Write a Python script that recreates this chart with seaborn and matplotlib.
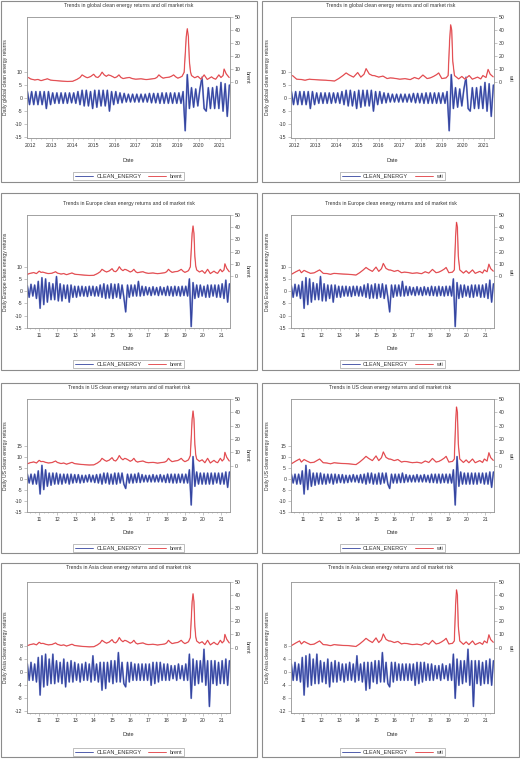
import numpy as np
import pandas as pd
import matplotlib
matplotlib.use("Agg")
import matplotlib.pyplot as plt
from matplotlib.patches import Rectangle
from matplotlib.ticker import FixedLocator
import seaborn as sns

sns.set_theme(style="white")
plt.rcParams['font.family'] = ['Liberation Sans', 'DejaVu Sans']
plt.rcParams['axes.unicode_minus'] = False

# ---------------- data ----------------
# time axis in years (2-digit: 11 = 2011), roughly every 0.1 year
t_start = 10.35
t_start_global = 11.85
step = 0.1

europe_ret = [2.2, -2.5, 2.8, -2.0, 2.5, -3.0,
              4.0, -7.0, 5.5, -5.5, 5.0, -4.5, 3.5, -3.5, 3.0, -3.5, 6.0, -4.0, 3.0, -4.0,
              2.5, -3.0, 2.5, -4.5, 2.5, -2.5, 2.0, -2.5, 2.0, -2.0,
              2.0, -2.0, 1.8, -2.2, 2.0, -1.8, 2.0, -2.0, 1.8, -2.0,
              2.5, -2.5, 3.0, -3.0, 2.5, -2.8, 3.0, -3.0, 2.8, -2.5,
              3.0, -3.0, 2.5, -2.5, -8.5, 2.5, -2.5, 2.5, -2.0, 2.5,
              -2.0, 4.0, -2.0, 2.0, -1.8, 1.8, -1.5, 1.5, -1.8, 1.8,
              -1.5, 1.5, -1.8, 1.8, -1.5, 1.5, -1.8, 2.0, -1.8, 1.8,
              -2.0, 2.0, -1.8, 1.8, -2.0, 2.0, -1.8, 2.0, -2.0, 5.0,
              -14.5, 3.5, -3.0, 2.5, -2.5, 2.5, -2.0, 2.0, -2.5, 2.5,
              -2.5, 2.5, -2.0, 2.5, -2.5, 2.5, -2.5, 3.0, -3.0, 4.5,
              -4.5, 3.0]

us_ret = [2.0, -2.0, 2.0, -2.5, 2.0, -2.5,
          3.5, -7.0, 6.0, -5.0, 4.0, -3.5, 2.5, -3.0, 2.5, -2.5, 2.5, -2.5, 2.0, -2.5,
          2.0, -2.0, 2.0, -2.5, 2.0, -2.0, 1.8, -1.8, 1.8, -2.0,
          1.5, -1.8, 1.5, -1.5, 1.8, -1.5, 1.5, -1.8, 1.8, -2.0,
          2.0, -2.5, 2.5, -2.0, 2.5, -2.5, 2.0, -2.5, 2.5, -2.5,
          2.5, -2.0, 2.5, -2.5, -4.5, 2.0, -2.0, 2.0, -2.0, 2.0,
          -1.8, 2.5, -1.8, 1.8, -1.5, 1.5, -1.5, 1.5, -1.5, 1.8,
          -1.5, 1.5, -1.5, 1.8, -1.5, 1.5, -1.8, 2.0, -1.8, 2.0,
          -2.0, 2.0, -2.0, 2.0, -1.8, 2.0, -2.0, 2.0, -2.0, 4.0,
          -12.0, 10.0, -3.5, 3.0, -2.5, 2.5, -2.5, 2.5, -2.5, 2.5,
          -2.5, 2.5, -2.5, 2.5, -2.0, 2.5, -2.5, 2.5, -2.5, 3.0,
          -4.0, 3.0]

asia_ret = [2.5, -2.5, 3.0, -2.5, 2.5, -3.0,
            4.5, -7.0, 5.0, -4.5, 5.5, -4.0, 4.0, -3.5, 5.5, -3.5, 3.5, -3.0, 3.0, -3.5,
            4.0, -4.5, 3.0, -3.0, 3.5, -3.0, 3.0, -2.5, 2.5, -3.0,
            2.5, -2.5, 3.0, -2.5, 2.5, -3.0, 5.0, -2.5, 2.5, -3.0,
            3.0, -5.5, 3.0, -5.0, 3.0, -3.0, 3.5, -3.5, 3.5, -3.0,
            6.0, -3.0, 3.0, -3.5, -4.5, 3.0, -3.0, 3.0, -2.5, 2.5,
            -2.5, 2.5, -2.5, 2.5, -2.5, 2.5, -2.5, 2.5, -4.0, 3.0,
            -3.5, 3.0, -3.0, 3.0, -2.5, 2.5, -2.5, 2.5, -2.5, 2.0,
            -2.0, 2.0, -2.5, 2.5, -2.0, 2.0, -2.5, 2.5, -2.5, 5.5,
            -8.0, 4.0, -4.0, 3.5, -3.5, 3.5, -3.0, 7.0, -4.0, 3.5,
            -10.5, 3.5, -3.5, 3.5, -4.0, 3.0, -3.5, 3.5, -3.5, 4.0,
            -4.0, 3.5]

global_ret = [2.5, -2.5, 2.5, -2.5, 2.5,
              -2.5, 2.5, -2.5, 2.5, -4.0, 2.5, -2.5, 2.0, -2.0, 2.0,
              -2.0, 2.0, -2.0, 2.0, -2.0, 2.0, -1.8, 2.0, -2.0, 2.5,
              -2.5, 3.0, -3.0, 3.0, -3.0, 2.5, -4.0, 3.0, -3.5, 3.0,
              -3.0, 3.0, -3.0, 3.0, -5.0, 2.5, -2.5, 2.5, -2.0, 2.0,
              -1.8, 1.8, -1.5, 1.5, -1.5, 1.5, -1.5, 1.5, -1.5, 1.5,
              -1.5, 1.5, -1.5, 1.8, -1.8, 1.8, -1.8, 1.8, -2.0, 2.0,
              -2.0, 2.0, -2.0, 2.0, -2.0, 2.0, -2.0, 2.0, -2.0, 2.5,
              -12.5, 9.0, -4.0, 4.0, -3.5, 3.5, -3.0, 3.5, 8.0, -4.0,
              -5.0, 4.0, -4.0, 4.0, -4.0, 4.5, -4.0, 6.0, -5.0, 5.5,
              -7.0, 5.0]

brent_t = [10.35, 10.5, 10.7, 10.85, 11.0, 11.1, 11.2, 11.35, 11.5, 11.7, 11.9, 12.0,
           12.2, 12.35, 12.5, 12.65, 12.8, 12.95, 13.2, 13.5, 13.75, 14.0, 14.2, 14.35,
           14.45, 14.6, 14.7, 14.85, 15.0, 15.1, 15.2, 15.3, 15.4, 15.5, 15.6, 15.7,
           15.8, 15.9, 16.0, 16.1, 16.2, 16.3, 16.4, 16.55, 16.7, 16.85, 17.0, 17.25,
           17.5, 17.7, 17.9, 18.0, 18.1, 18.2, 18.3, 18.45, 18.6, 18.7, 18.8, 18.9,
           19.0, 19.1, 19.2, 19.3, 19.35, 19.4, 19.45, 19.5, 19.55, 19.6, 19.65, 19.8,
           19.95, 20.1, 20.25, 20.4, 20.5, 20.6, 20.7, 20.8, 20.95, 21.05, 21.15, 21.2,
           21.3, 21.44]
brent_v = [1.4, 2.2, 2.8, 2.0, 4.0, 3.0, 3.2, 2.5, 2.0, 2.3, 3.5, 2.4,
           1.6, 2.0, 1.1, 1.8, 2.5, 1.5, 1.1, 0.7, 0.5, 0.6, 2.0, 3.5,
           5.5, 4.0, 3.3, 4.2, 6.0, 4.0, 3.5, 5.0, 7.6, 5.5, 4.4, 5.5,
           5.0, 4.2, 3.3, 4.0, 5.5, 3.5, 2.7, 3.2, 3.5, 2.6, 2.2, 2.5,
           1.9, 2.3, 2.7, 3.5, 5.5, 4.0, 3.0, 3.5, 3.8, 4.5, 5.5, 4.0,
           3.0, 3.6, 4.4, 7.5, 21.0, 35.0, 41.0, 35.0, 16.0, 8.0, 5.0, 3.3,
           4.4, 2.2, 5.5, 2.0, 3.0, 4.0, 2.8, 2.2, 5.5, 3.5, 5.0, 10.0,
           6.3, 3.5]

wti_t = [10.35, 10.6, 10.8, 10.9, 11.05, 11.2, 11.4, 11.6, 11.9, 12.1, 12.3, 12.5,
         12.7, 12.9, 13.2, 13.5, 13.9, 14.1, 14.3, 14.45, 14.6, 14.8, 15.0, 15.15,
         15.3, 15.4, 15.55, 15.7, 15.8, 16.0, 16.2, 16.4, 16.55, 16.7, 17.0, 17.25,
         17.5, 17.7, 17.9, 18.1, 18.3, 18.45, 18.6, 18.75, 18.85, 19.0, 19.2, 19.3,
         19.37, 19.42, 19.47, 19.52, 19.6, 19.8, 19.95, 20.1, 20.3, 20.45, 20.7, 20.85,
         20.95, 21.1, 21.2, 21.3, 21.44]
wti_v = [1.4, 3.5, 5.0, 2.7, 4.6, 3.5, 2.2, 2.6, 5.0, 2.2, 2.0, 1.4,
         2.2, 1.9, 1.6, 1.4, 0.8, 2.7, 5.0, 7.0, 5.4, 3.8, 7.3, 3.8,
         6.0, 10.3, 6.2, 5.0, 4.9, 3.8, 4.6, 2.7, 3.2, 3.0, 2.2, 2.6,
         1.9, 3.5, 2.4, 5.4, 2.7, 3.2, 4.3, 5.7, 7.0, 2.7, 3.2, 5.0,
         32.0, 44.0, 40.0, 16.0, 5.0, 2.4, 4.3, 2.2, 5.0, 2.2, 3.8, 2.4,
         5.0, 3.5, 9.7, 6.0, 4.0]

regions = ["global", "Europe", "US", "Asia"]
region_returns = [global_ret, europe_ret, us_ret, asia_ret]
year_labels_global = ["2012", "2013", "2014", "2015", "2016", "2017", "2018", "2019", "2020", "2021"]
year_labels_short = ["11", "12", "13", "14", "15", "16", "17", "18", "19", "20", "21"]
oil_names = ["brent", "wti"]

# ---------------- layout (pixels) ----------------
W, H = 520, 759
fig = plt.figure(figsize=(W / 100, H / 100), dpi=100)

cols = [dict(box=(1, 257), ax=(27, 230)), dict(box=(262, 519), ax=(291, 494))]
rows = [
    dict(box=(1, 182), ax=(17, 138), title=6, date=160, leg=176,
         ylim=(-15.3, 31.1), yticks=[-15, -10, -5, 0, 5, 10], rlim=(-43, 50)),
    dict(box=(193, 370), ax=(215, 328), title=203, date=349, leg=364,
         ylim=(-15.1, 31.2), yticks=[-15, -10, -5, 0, 5, 10], rlim=(-42.6, 50)),
    dict(box=(383, 553), ax=(399, 512), title=387, date=533, leg=548,
         ylim=(-15.2, 36.2), yticks=[-15, -10, -5, 0, 5, 10, 15], rlim=(-34.75, 50)),
    dict(box=(563, 757), ax=(582, 713), title=567, date=735, leg=752,
         ylim=(-12.5, 27.6), yticks=[-12, -8, -4, 0, 4, 8], rlim=(-50, 50)),
]

FS = 3.7
BLUE = "#34449F"
BLUE_LIGHT = "#8C99D6"
RED = "#E0393E"
RED_LIGHT = "#F0A0A3"
GRID = "#9A9A9A"
TXT = "#333333"

oil_series = {
    "brent": pd.DataFrame({"t": brent_t, "v": brent_v}),
    "wti": pd.DataFrame({"t": wti_t, "v": wti_v}),
}


def fx(px):
    return px / W


def fy(py):
    return 1 - py / H


def style_axis(a):
    for s in a.spines.values():
        s.set_color(GRID)
        s.set_linewidth(0.5)
    a.tick_params(which="both", colors=GRID, labelcolor=TXT, labelsize=FS,
                  width=0.4, pad=1.5)
    a.tick_params(which="major", length=2)
    a.tick_params(which="minor", length=1)


for r, (region, ret, row) in enumerate(zip(regions, region_returns, rows)):
    t0 = t_start_global if r == 0 else t_start
    times = t0 + step * np.arange(len(ret))
    df = pd.DataFrame({"t": times, "ret": ret})
    for c, (col, oil) in enumerate(zip(cols, oil_names)):
        # panel border
        bx0, bx1 = col["box"]
        by0, by1 = row["box"]
        fig.patches.append(Rectangle((fx(bx0), fy(by1)), fx(bx1) - fx(bx0), fy(by0) - fy(by1),
                                     transform=fig.transFigure, fill=False,
                                     edgecolor="#8C8C8C", linewidth=0.8))
        ax0, ax1 = col["ax"]
        ay0, ay1 = row["ax"]
        ax = fig.add_axes([fx(ax0), fy(ay1), fx(ax1) - fx(ax0), fy(ay0) - fy(ay1)])
        ax2 = ax.twinx()

        # light halo underneath, dark core on top
        sns.lineplot(data=df, x="t", y="ret", ax=ax, color=BLUE_LIGHT, linewidth=1.3,
                     legend=False)
        sns.lineplot(data=df, x="t", y="ret", ax=ax, color=BLUE, linewidth=0.8,
                     label="CLEAN_ENERGY", legend=False)
        od = oil_series[oil]
        od = od[od["t"] >= t0]
        sns.lineplot(data=od, x="t", y="v", ax=ax2, color=RED_LIGHT, linewidth=1.0,
                     legend=False)
        sns.lineplot(data=od, x="t", y="v", ax=ax2, color=RED, linewidth=0.55,
                     label=oil, legend=False)

        ax.set_xlim(t0 - 0.02, 21.48)
        ax.set_ylim(*row["ylim"])
        ax2.set_ylim(*row["rlim"])
        ax.set_yticks(row["yticks"])
        ax.set_yticklabels([str(v) for v in row["yticks"]])
        ax2.set_yticks([0, 10, 20, 30, 40, 50])
        ax2.set_yticklabels(["0", "10", "20", "30", "40", "50"])
        if r == 0:
            major = list(range(12, 22))
            ax.set_xticks(major)
            ax.set_xticklabels(year_labels_global)
        else:
            major = list(range(11, 22))
            ax.set_xticks(major)
            ax.set_xticklabels(year_labels_short)
        minor = [y + q for y in range(10, 22) for q in (0.25, 0.5, 0.75)
                 if t0 <= y + q <= 21.48]
        ax.xaxis.set_minor_locator(FixedLocator(minor))
        ax.tick_params(axis="x", which="both", bottom=True)
        ax.tick_params(axis="y", left=True)
        ax2.tick_params(axis="y", right=True)
        ax.set_xlabel("")
        ax.set_ylabel("")
        ax2.set_ylabel("")
        style_axis(ax)
        style_axis(ax2)

        cx = (bx0 + bx1) / 2
        fig.text(fx(cx), fy(row["title"]), f"Trends in {region} clean energy returns and oil market risk",
                 ha="center", va="center", fontsize=FS, color=TXT)
        fig.text(fx((ax0 + ax1) / 2), fy(row["date"]), "Date", ha="center", va="center",
                 fontsize=FS + 0.3, color=TXT)
        fig.text(fx(bx0 + 5), fy((ay0 + ay1) / 2), f"Daily {region} clean energy returns",
                 rotation=90, ha="center", va="center", fontsize=FS, color=TXT)
        fig.text(fx(ax1 + 17), fy((ay0 + ay1) / 2), oil, rotation=270,
                 ha="center", va="center", fontsize=FS + 0.3, color=TXT)

        h1, l1 = ax.get_legend_handles_labels()
        h2, l2 = ax2.get_legend_handles_labels()
        leg = fig.legend(h1 + h2, l1 + l2, loc="center", ncol=2,
                         bbox_to_anchor=(fx((ax0 + ax1) / 2), fy(row["leg"])),
                         bbox_transform=fig.transFigure, fontsize=FS + 0.3,
                         frameon=True, fancybox=False, handlelength=3.2,
                         borderpad=0.35, columnspacing=1.2, handletextpad=0.6)
        leg.get_frame().set_edgecolor("#8C8C8C")
        leg.get_frame().set_linewidth(0.5)
        for line in leg.get_lines():
            line.set_linewidth(0.6)
        for txt in leg.get_texts():
            txt.set_color(TXT)

fig.savefig("out.png", dpi=100, facecolor="white")
